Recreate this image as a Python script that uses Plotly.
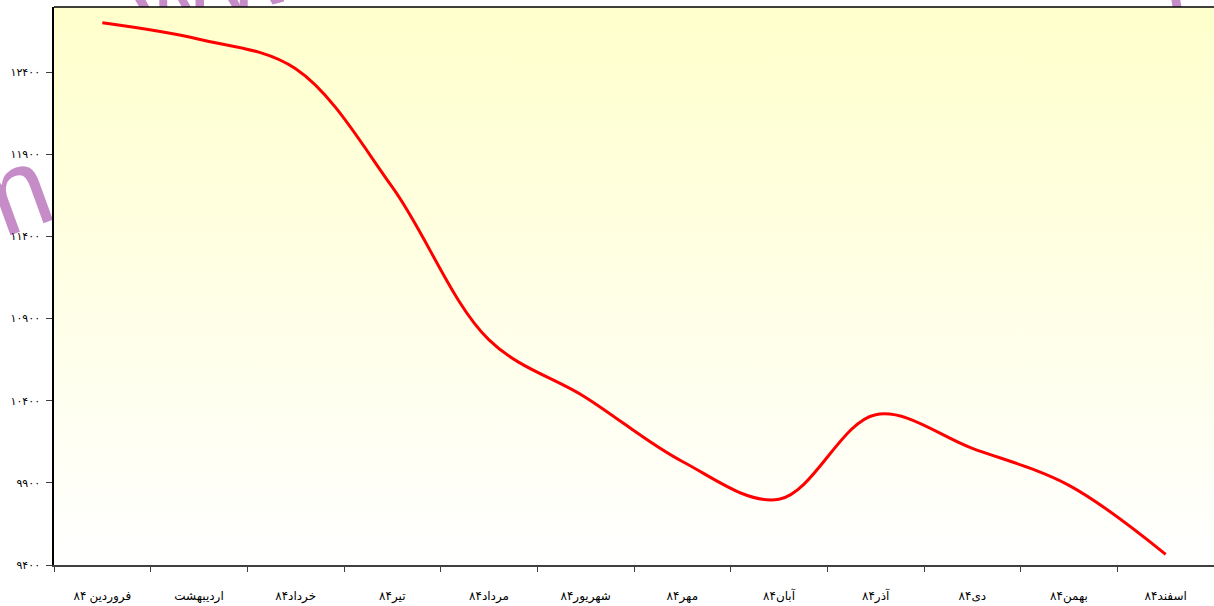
import base64
import plotly.graph_objects as go

# ---- data ----
months = ["فروردین ۸۴", "اردیبهشت", "خرداد۸۴", "تیر۸۴", "مرداد۸۴", "شهریور۸۴",
          "مهر۸۴", "آبان۸۴", "آذر۸۴", "دی۸۴", "بهمن۸۴", "اسفند۸۴"]
values = [12700, 12600, 12420, 11700, 10770, 10420, 10030, 9800, 10315, 10110, 9885, 9465]
ytick_vals = [9400, 9900, 10400, 10900, 11400, 11900, 12400]
fa_digits = str.maketrans("0123456789", "۰۱۲۳۴۵۶۷۸۹")
ytick_text = [str(v).translate(fa_digits) for v in ytick_vals]

W, H = 1214, 606
ML, MR, MT, MB = 54, 0, 7, 41
PW, PH = W - ML - MR, H - MT - MB


def svg_uri(svg):
    return "data:image/svg+xml;base64," + base64.b64encode(svg.encode("utf-8")).decode()


watermark_svg = f'''<svg xmlns="http://www.w3.org/2000/svg" width="{W}" height="{H}" viewBox="0 0 {W} {H}" preserveAspectRatio="none">
<g fill="#C68CC8" font-family="Liberation Sans" font-size="115">
<text x="-30" y="250" transform="rotate(-20 -30 250)">m</text>
<text x="140" y="40" transform="rotate(-15 140 40)">ww</text>
<text x="1178" y="40" transform="rotate(-25 1178 40)">/</text>
</g></svg>'''

gradient_svg = '''<svg xmlns="http://www.w3.org/2000/svg" width="100" height="100" viewBox="0 0 100 100" preserveAspectRatio="none">
<defs><linearGradient id="g" x1="0" y1="0" x2="0" y2="1">
<stop offset="0" stop-color="#FFFFCC"/><stop offset="1" stop-color="#FFFFFF"/>
</linearGradient></defs>
<rect x="0" y="0" width="100" height="100" fill="url(#g)"/></svg>'''

fig = go.Figure()
fig.add_trace(go.Scatter(
    x=months, y=values, mode="lines",
    line=dict(color="#FF0000", width=3, shape="spline", smoothing=1),
    hoverinfo="skip", showlegend=False,
))

font_family = "Liberation Serif, DejaVu Sans, serif"

fig.update_layout(
    width=W, height=H,
    margin=dict(l=ML, r=MR, t=MT, b=MB, pad=0),
    paper_bgcolor="white",
    plot_bgcolor="rgba(0,0,0,0)",
    font=dict(family=font_family, size=12, color="#000000"),
    showlegend=False,
    images=[
        dict(source=svg_uri(watermark_svg), xref="paper", yref="paper",
             x=-ML / PW, y=1 + MT / PH, sizex=W / PW, sizey=H / PH,
             xanchor="left", yanchor="top", sizing="stretch", layer="below"),
        dict(source=svg_uri(gradient_svg), xref="paper", yref="paper",
             x=0, y=1, sizex=1, sizey=1,
             xanchor="left", yanchor="top", sizing="stretch", layer="below"),
    ],
    shapes=[
        dict(type="line", xref="paper", yref="paper", x0=0, x1=1, y0=1, y1=1,
             line=dict(color="#000000", width=1.5), layer="above"),
    ],
    xaxis=dict(
        type="category", range=[-0.5, 11.5],
        showline=True, linecolor="#404040", linewidth=2,
        ticks="outside", tickson="boundaries", ticklen=5, tickwidth=1, tickcolor="#404040",
        showgrid=False, zeroline=False, fixedrange=True,
        ticklabelstandoff=19, tickfont=dict(size=12),
    ),
    yaxis=dict(
        range=[9400, 12796], tickmode="array", tickvals=ytick_vals, ticktext=ytick_text,
        showline=True, linecolor="#000000", linewidth=1.5,
        ticks="outside", ticklen=6, tickwidth=1, tickcolor="#404040",
        showgrid=False, zeroline=False, fixedrange=True,
        ticklabelstandoff=4, tickfont=dict(size=11),
    ),
)

fig.write_html(
    "out.html",
    config={"displayModeBar": False},
    post_script="document.body.style.margin='0';document.body.style.padding='0';document.body.style.overflow='hidden';",
)
